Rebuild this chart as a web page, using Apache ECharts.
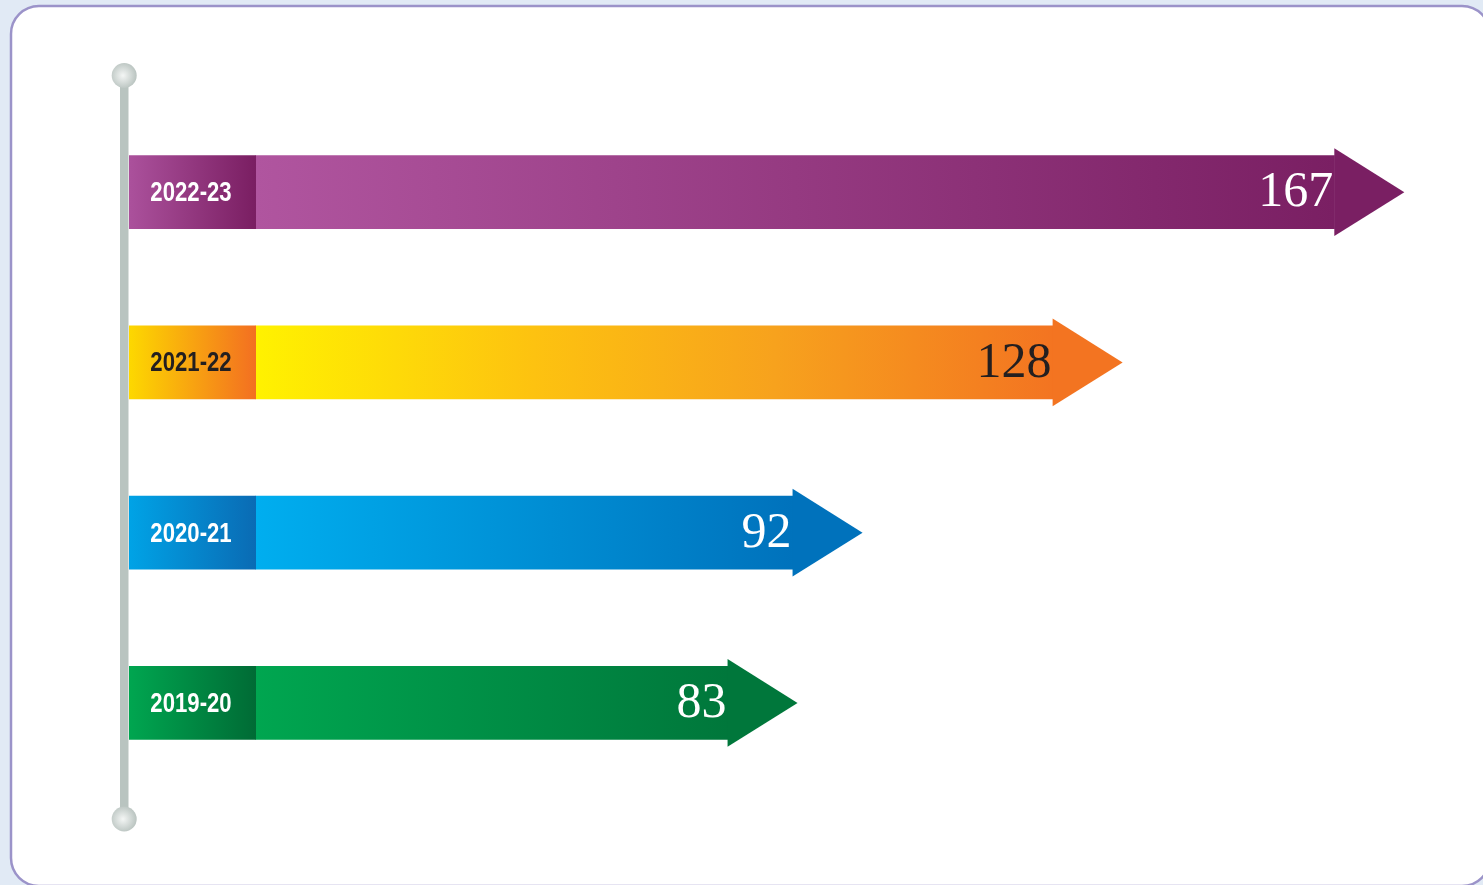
<!DOCTYPE html>
<html>
<head>
<meta charset="utf-8">
<style>
  html, body { margin: 0; padding: 0; background: #e1eaf5; }
  #chart { width: 1483px; height: 885px; }
</style>
<script src="https://cdn.jsdelivr.net/npm/echarts@6/dist/echarts.min.js"></script>
</head>
<body>
<div id="chart"></div>
<script>
// ---- data ----
const categories = ['2019-20', '2020-21', '2021-22', '2022-23'];
const values = [83, 92, 128, 167];

// ---- styles (per category, bottom to top) ----
const bodyStops = [
  [[0, '#00a650'], [1, '#00773b']],
  [[0, '#00aeef'], [1, '#0072bc']],
  [[0, '#fff200'], [0.35, '#fdc210'], [0.65, '#f7a21d'], [1, '#f37421']],
  [[0, '#b0559f'], [1, '#7a1f63']]
];
const boxStops = [
  [[0, '#00a650'], [1, '#006b35']],
  [[0, '#00a3e6'], [1, '#0a6bb4']],
  [[0, '#fdd800'], [1, '#f36f21']],
  [[0, '#ab519c'], [1, '#7a1e62']]
];
const labelColors = ['#ffffff', '#ffffff', '#231f20', '#ffffff'];
const valueColors = ['#ffffff', '#ffffff', '#231f20', '#ffffff'];

function grad(stops) {
  return new echarts.graphic.LinearGradient(0, 0, 1, 0,
    stops.map(s => ({ offset: s[0], color: s[1] })));
}

const chart = echarts.init(document.getElementById('chart'), null, { renderer: 'canvas' });

const ballFill = () => new echarts.graphic.RadialGradient(0.45, 0.5, 0.6,
  [{ offset: 0, color: '#f4f6f5' }, { offset: 1, color: '#b4bfbb' }]);

const option = {
  backgroundColor: '#e1eaf5',
  animation: false,
  grid: { left: 198, right: 57, top: 107, bottom: 97 },
  xAxis: { type: 'value', min: 0, max: 170, show: false },
  yAxis: { type: 'category', data: categories, show: false },
  graphic: [
    { type: 'rect', z: -10, shape: { x: 11, y: 6, width: 1479, height: 880, r: 28 },
      style: { fill: '#ffffff', stroke: '#9b93c9', lineWidth: 2.5 } },
    { type: 'rect', z: 1, shape: { x: 120, y: 76, width: 8.5, height: 743 },
      style: { fill: '#b9c4c0' } },
    { type: 'circle', z: 2, shape: { cx: 124.2, cy: 75.5, r: 12.5 }, style: { fill: ballFill() } },
    { type: 'circle', z: 2, shape: { cx: 124.2, cy: 819, r: 12.5 }, style: { fill: ballFill() } }
  ],
  series: [{
    type: 'custom',
    z: 5,
    encode: { x: 0, y: 1 },
    data: values.map((v, i) => [v, i]),
    renderItem: function (params, api) {
      const i = params.dataIndex;
      const tip = api.coord([api.value(0), api.value(1)]);
      const band = api.size([0, 1])[1];
      const cs = params.coordSys;
      const h = band * 0.4345;
      const hh = band * 0.258;
      const headW = 70;
      const cy = tip[1];
      const boxL = cs.x - 69, boxR = cs.x + 58;
      const baseX = tip[0] - headW;
      const stops = bodyStops[i];
      const endColor = stops[stops.length - 1][1];
      return {
        type: 'group',
        children: [
          { type: 'rect', shape: { x: boxR - 0.5, y: cy - h / 2, width: baseX - boxR + 1, height: h },
            style: { fill: grad(stops) } },
          { type: 'polygon', shape: { points: [[baseX, cy - hh], [tip[0], cy], [baseX, cy + hh]] },
            style: { fill: endColor } },
          { type: 'rect', shape: { x: boxL, y: cy - h / 2, width: boxR - boxL, height: h },
            style: { fill: grad(boxStops[i]) } },
          { type: 'text', x: (boxL + boxR) / 2 - 1.5, y: cy + 1.5, scaleX: 0.82,
            style: { text: categories[i],
              fill: labelColors[i], fontSize: 27, fontWeight: 'bold',
              fontFamily: '"Liberation Sans", Arial, sans-serif',
              align: 'center', verticalAlign: 'middle' } },
          { type: 'text', x: baseX - 1, y: cy + 1,
            style: { text: String(api.value(0)),
              fill: valueColors[i], fontSize: 50,
              fontFamily: '"Liberation Serif", "DejaVu Serif", serif',
              align: 'right', verticalAlign: 'middle' } }
        ]
      };
    }
  }]
};
chart.setOption(option);
</script>
</body>
</html>
